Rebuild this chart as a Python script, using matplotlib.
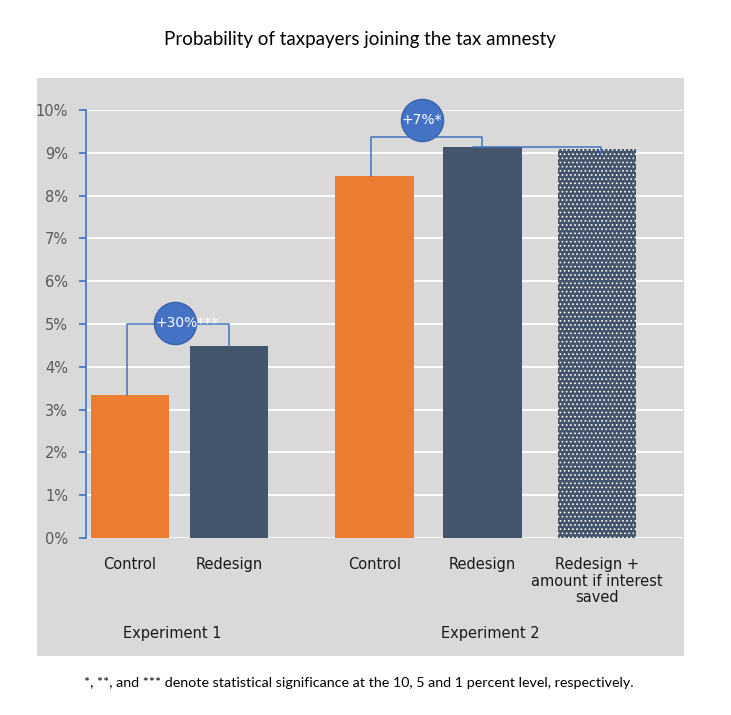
import matplotlib
matplotlib.use("Agg")
import matplotlib.pyplot as plt
from matplotlib.patches import Rectangle
from matplotlib.ticker import PercentFormatter

# data (percent)
labels = ["Control", "Redesign", "Control", "Redesign", "Redesign +\namount if interest\nsaved"]
values = [3.34, 4.49, 8.46, 9.14, 9.09]
xpos = [0, 1, 2.47, 3.56, 4.72]
groups = ["Experiment 1", "Experiment 2"]
group_x = [0.43, 3.64]
effects = ["+30%***", "+7%*"]

orange = "#ED7D31"
navy = "#44546A"
blue = "#4472C4"
gray = "#D9D9D9"

fig = plt.figure(figsize=(7.31, 7.15), dpi=100)
fig.patch.set_facecolor("white")
fig.add_artist(Rectangle((37 / 731, 59 / 715), 647 / 731, 578 / 715,
                         transform=fig.transFigure, facecolor=gray,
                         edgecolor="none", zorder=-5))

ax = fig.add_axes([86 / 731, 177 / 715, 597 / 731, 428 / 715])
ax.set_facecolor(gray)
ax.set_zorder(2)

w = 0.79
cols = [orange, navy, orange, navy]
ax.bar(xpos[:4], values[:4], width=w, color=cols, zorder=3)
plt.rcParams["hatch.linewidth"] = 0.7
ax.bar(xpos[4], values[4], width=w, color=navy, edgecolor="white", hatch="....",
       linewidth=0, zorder=3)

ax.set_ylim(0, 10)
ax.set_xlim(-0.444, 5.586)
ax.set_yticks(range(0, 11))
ax.yaxis.set_major_formatter(PercentFormatter(decimals=0))
ax.grid(axis="y", color="white", linewidth=1.4, zorder=1)
ax.set_axisbelow(True)
for s in ["top", "right", "bottom"]:
    ax.spines[s].set_visible(False)
ax.spines["left"].set_color(blue)
ax.spines["left"].set_linewidth(1.2)
ax.tick_params(axis="y", colors=blue, labelcolor="#595959", labelsize=10.5,
               length=5, width=1.2, pad=8)
ax.set_xticks(xpos)
ax.set_xticklabels(labels, fontsize=10.5, color="#1a1a1a", linespacing=1.1)
ax.tick_params(axis="x", length=0, pad=14)

# brackets
lw = 1.1
b1y = 5.0
ax.plot([xpos[0] - 0.03, xpos[0] - 0.03, xpos[1], xpos[1]],
        [values[0], b1y, b1y, values[1]], color=blue, lw=lw, zorder=4)
b2y = 9.38
ax.plot([xpos[2] - 0.04, xpos[2] - 0.04, xpos[3], xpos[3]],
        [values[2], b2y, b2y, values[3]], color=blue, lw=lw, zorder=4)
ax.plot([xpos[3] - 0.1, xpos[4] + 0.04, xpos[4] + 0.04],
        [values[3], values[3], values[4] - 0.15], color=blue, lw=lw, zorder=4)

# bubbles
bub = [(0.45, 5.02), (2.95, 9.77)]
for (bx, by), txt in zip(bub, effects):
    ax.scatter([bx], [by], s=920, color=blue, edgecolor="#3A62AD", linewidth=1,
               zorder=5, clip_on=False)
    ax.text(bx + (0.13 if "***" in txt else 0), by, txt, color="white",
            fontsize=10, ha="center", va="center", zorder=6, clip_on=False)

for gx, g in zip(group_x, groups):
    ax.text(gx, -0.224, g, transform=ax.get_xaxis_transform(), ha="center",
            va="center", fontsize=10.5, color="#1a1a1a")

fig.text(360 / 731, 1 - 40 / 715, "Probability of taxpayers joining the tax amnesty",
         ha="center", va="center", fontsize=13.5, family="Lato")
fig.text(359 / 731, 1 - 683 / 715,
         "*, **, and *** denote statistical significance at the 10, 5 and 1 percent level, respectively.",
         ha="center", va="center", fontsize=10.3, family="Lato")

fig.savefig("out.png", dpi=100)
